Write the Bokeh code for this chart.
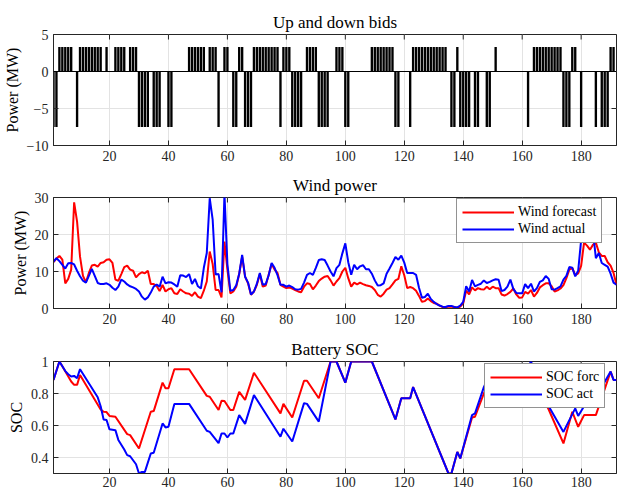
import math
from bokeh.plotting import figure
from bokeh.layouts import column
from bokeh.models import (FixedTicker, Span, Legend, LegendItem,
                          Range1d, ColumnDataSource)
from bokeh.embed import file_html
from bokeh.resources import INLINE

FONT = "Liberation Serif"
AX = "#262626"
GRID = "#e3e3e3"

# ---------------- data ----------------
hours = list(range(1, 193))

up_hours = [3, 4, 5, 6, 7, 10, 11, 12, 13, 14, 15, 16, 17, 19, 22, 23, 24, 25,
            27, 28, 29, 47, 48, 49, 50, 51, 52, 54, 55, 56, 59, 60, 64, 65,
            69, 70, 71, 72, 73, 74, 75, 76, 77, 79, 80, 81, 87, 88, 89, 90,
            97, 98, 99, 109, 110, 111, 112, 113, 114, 115, 116,
            123, 124, 125, 126, 127, 128, 129, 130, 131, 132, 133, 134, 138, 151,
            164, 165, 166, 167, 168, 169, 170, 171, 172, 173, 177, 178, 190, 191]
down_hours = [1, 2, 9, 30, 31, 32, 33, 35, 36, 37, 40, 41, 57, 62, 63, 66, 67, 68,
              78, 82, 83, 84, 85, 91, 92, 93, 94, 100, 101, 117, 118, 122,
              136, 137, 139, 140, 141, 142, 144, 145, 148, 149, 162,
              174, 175, 176, 180, 185, 187, 188, 189]
up_bid = 3.3
down_bid = -7.5

wind_forecast = [
    12.5, 13.5, 14.2, 13.2, 6.8, 8.0, 10.5, 28.7, 23.5, 14.0,
    8.8, 7.1, 9.6, 11.6, 11.8, 11.3, 12.3, 12.5, 13.2, 13.3,
    12.3, 7.8, 7.5, 9.3, 11.2, 11.6, 10.5, 10.2, 8.4, 9.3,
    9.8, 9.5, 10.2, 6.6, 6.6, 6.1, 4.7, 6.4, 4.6, 5.2,
    5.5, 4.1, 3.9, 5.2, 4.6, 4.1, 4.0, 3.4, 4.4, 3.2,
    2.8, 4.8, 7.3, 15.4, 12.0, 5.0, 5.0, 3.0, 18.1, 10.5,
    4.1, 4.6, 5.9, 9.3, 14.0, 8.6, 6.8, 3.7, 4.6, 6.4,
    9.3, 5.9, 6.2, 9.1, 12.0, 10.5, 9.6, 6.4, 5.9, 5.5,
    5.7, 5.4, 5.0, 4.6, 4.4, 5.9, 6.8, 6.6, 5.2, 6.2,
    7.4, 8.1, 8.6, 8.8, 7.6, 6.2, 7.3, 8.2, 10.0, 11.0,
    8.2, 5.9, 7.0, 6.5, 7.0, 6.6, 6.3, 6.1, 5.8, 5.0,
    3.7, 3.2, 4.0, 5.1, 5.5, 6.5, 7.6, 8.0, 11.4, 9.0,
    5.5, 5.8, 5.5, 4.8, 3.4, 1.8, 2.0, 2.7, 2.0, 1.5,
    1.3, 0.8, 0.4, 0.4, 0.5, 0.5, 0.4, 0.2, 0.5, 1.4,
    4.8, 3.8, 5.7, 4.9, 5.5, 5.2, 5.1, 5.9, 5.2, 5.9,
    5.5, 5.5, 3.8, 3.5, 3.9, 4.5, 5.4, 3.8, 2.9, 3.0,
    4.5, 4.0, 5.0, 3.2, 4.2, 5.7, 6.3, 6.8, 6.8, 6.0,
    4.6, 4.9, 5.4, 6.3, 8.2, 10.5, 11.0, 9.0, 9.5, 11.5,
    17.8, 17.0, 15.9, 17.2, 17.8, 15.2, 14.2, 14.2, 12.5, 11.6,
    9.6, 6.4]

wind_actual = [
    12.7, 13.6, 12.8, 11.8, 10.8, 12.2, 12.3, 11.9, 10.2, 8.7,
    7.5, 7.0, 8.8, 10.7, 8.8, 6.9, 6.6, 6.6, 6.8, 6.4,
    5.6, 5.0, 5.9, 7.8, 7.3, 6.5, 6.0, 5.7, 5.3, 4.6,
    3.2, 2.4, 3.0, 4.3, 5.9, 6.5, 5.9, 8.6, 6.8, 7.1,
    7.0, 6.5, 5.9, 9.0, 8.9, 8.5, 9.3, 6.6, 8.0, 6.0,
    5.4, 11.0, 15.0, 29.8, 24.0, 9.2, 9.3, 4.4, 31.0, 12.0,
    4.8, 5.0, 6.3, 9.4, 14.5, 8.6, 7.0, 3.8, 4.6, 6.7,
    9.6, 6.4, 6.6, 9.0, 12.3, 11.0, 9.0, 6.4, 6.4, 5.9,
    6.2, 5.8, 5.2, 5.1, 5.3, 7.0, 9.1, 9.6, 9.1, 11.0,
    13.1, 13.3, 13.1, 11.6, 10.0, 8.7, 10.9, 11.8, 14.9, 17.6,
    12.5, 9.1, 11.8, 10.6, 11.4, 11.7, 10.6, 10.6, 9.4, 7.6,
    6.2, 6.3, 6.8, 9.4, 10.8, 12.3, 13.9, 13.2, 14.3, 12.4,
    9.6, 9.6, 9.6, 9.1, 5.6, 2.9, 3.1, 4.0, 2.6, 1.8,
    1.2, 0.8, 0.5, 0.4, 0.7, 0.7, 0.4, 0.3, 0.8, 1.8,
    6.0, 4.6, 7.7, 6.0, 6.4, 6.7, 7.6, 6.9, 7.2, 7.6,
    7.9, 7.8, 4.7, 5.0, 5.9, 7.8, 5.3, 4.2, 4.1, 4.1,
    6.6, 5.5, 6.7, 4.6, 5.5, 7.2, 7.6, 8.8, 8.0, 5.2,
    5.1, 5.5, 6.0, 7.8, 8.8, 11.2, 11.0, 8.7, 10.2, 18.5,
    21.0, 18.0, 19.0, 21.0, 13.6, 15.0, 12.3, 11.8, 11.3, 9.4,
    7.0, 6.4]

soc_forc_hours = [1, 3, 4, 7, 8, 9, 10, 17, 18, 19, 20, 22, 26, 27, 30, 34, 35,
                  38, 39, 40, 42, 47, 53, 54, 57, 58, 59, 61, 62, 64, 66, 69,
                  78, 79, 82, 86, 87, 91, 95, 97, 100, 102, 109, 117, 119, 122,
                  123, 135, 136, 138, 139, 143, 144, 147, 150, 152, 156, 160,
                  163, 169, 174, 177, 179, 181, 185, 190, 191, 192]
soc_forc = [0.885, 1.0, 0.97, 0.875, 0.854, 0.854, 0.916, 0.70, 0.686, 0.684,
            0.66, 0.655, 0.546, 0.54, 0.456, 0.686, 0.69, 0.868, 0.833, 0.833,
            0.952, 0.952, 0.785, 0.78, 0.697, 0.755, 0.753, 0.697, 0.697, 0.81,
            0.76, 0.93, 0.676, 0.735, 0.65, 0.88, 0.88, 0.77, 1.0, 1.0, 0.868,
            1.0, 1.0, 0.638, 0.77, 0.77, 0.84, 0.3, 0.3, 0.435, 0.394, 0.65,
            0.655, 0.80, 0.90, 0.92, 0.86, 0.87, 0.92, 0.70, 0.488, 0.686,
            0.592, 0.665, 0.665, 0.937, 0.885, 0.885]

soc_act_hours = [1, 3, 5, 6, 7, 8, 9, 10, 16, 17, 18, 19, 20, 22, 23, 25, 26,
                 27, 29, 30, 31, 32, 34, 35, 38, 39, 40, 42, 47, 53, 54, 57, 58,
                 59, 60, 61, 62, 64, 66, 69, 78, 79, 82, 86, 87, 91, 95, 97, 100,
                 102, 109, 117, 119, 122, 123, 135, 136, 138, 139, 143, 144, 147,
                 150, 151, 152, 155, 158, 160, 163, 169, 174, 178, 179, 181, 183,
                 185, 187, 190, 191, 192]
soc_act = [0.885, 1.0, 0.94, 0.92, 0.906, 0.91, 0.895, 0.952, 0.776, 0.72,
           0.638, 0.634, 0.576, 0.571, 0.51, 0.45, 0.415, 0.408, 0.358, 0.30,
           0.31, 0.31, 0.425, 0.43, 0.613, 0.588, 0.592, 0.735, 0.735, 0.567,
           0.56, 0.49, 0.55, 0.55, 0.525, 0.55, 0.55, 0.665, 0.61, 0.79, 0.53,
           0.58, 0.50, 0.74, 0.735, 0.624, 1.0, 1.0, 0.868, 1.0, 1.0, 0.638,
           0.77, 0.77, 0.84, 0.3, 0.3, 0.435, 0.394, 0.665, 0.676, 0.84,
           0.96, 0.983, 0.95, 0.90, 0.88, 0.90, 1.0, 0.72, 0.56, 0.707, 0.66,
           0.72, 0.78, 0.82, 0.84, 0.937, 0.885, 0.885]

x_ticks = [20, 40, 60, 80, 100, 120, 140, 160, 180]
x_lim = (1, 192)


# ---------------- helpers ----------------
def make_fig(title, height, top, bottom, yr, yticks, ylabel):
    p = figure(width=617, height=height, x_range=Range1d(*x_lim),
               y_range=Range1d(*yr), output_backend="svg",
               toolbar_location=None, min_border_left=52, min_border_right=1,
               min_border_top=top, min_border_bottom=bottom)
    p.title.text = title
    p.title.align = "center"
    p.title.text_font = FONT
    p.title.text_font_size = "17px"
    p.title.text_font_style = "normal"
    p.title.text_color = "black"
    p.title.standoff = 5
    p.outline_line_color = AX
    p.outline_line_width = 1
    p.background_fill_color = "white"
    p.border_fill_color = "white"

    for ax in (p.xaxis[0], p.yaxis[0]):
        ax.major_tick_in = 5
        ax.major_tick_out = 0
        ax.minor_tick_line_color = None
        ax.major_tick_line_color = AX
        ax.axis_line_color = AX
        ax.major_label_text_font = FONT
        ax.major_label_text_font_size = "14px"
        ax.major_label_text_color = AX
        ax.major_label_standoff = 5
    p.xaxis.ticker = FixedTicker(ticks=x_ticks)
    p.yaxis.ticker = FixedTicker(ticks=yticks)
    p.yaxis.axis_label = ylabel
    p.yaxis.axis_label_text_font = FONT
    p.yaxis.axis_label_text_font_size = "16px"
    p.yaxis.axis_label_text_font_style = "normal"
    p.yaxis.axis_label_text_color = "black"
    p.yaxis.axis_label_standoff = 3

    p.xgrid.ticker = FixedTicker(ticks=x_ticks)
    p.ygrid.ticker = FixedTicker(ticks=yticks)
    p.grid.grid_line_color = GRID
    p.grid.grid_line_width = 1

    # inward tick marks on the top and right edges (clipped half-dashes)
    p.scatter(x_ticks, [yr[1]] * len(x_ticks), marker="dash", angle=math.pi / 2,
              size=10, line_color=AX, line_width=1)
    p.scatter([x_lim[1]] * len(yticks), yticks, marker="dash",
              size=10, line_color=AX, line_width=1)
    return p


# ---------------- plot 1: bids ----------------
p1 = make_fig("Up and down bids", 168, 34, 23, (-10, 5), [-10, -5, 0, 5],
              "Power (MW)")
bars = ColumnDataSource(dict(
    x=up_hours + down_hours,
    top=[up_bid] * len(up_hours) + [down_bid] * len(down_hours)))
p1.vbar(x="x", top="top", bottom=0, width=0.8, source=bars,
        fill_color="black", line_color=None)
p1.add_layout(Span(location=0, dimension="width", line_color="black",
                   line_width=1))

# ---------------- plot 2: wind ----------------
p2 = make_fig("Wind power", 162, 29, 22, (0, 30), [0, 10, 20, 30],
              "Power (MW)")
r_wf = p2.line(hours, wind_forecast, line_color="#ff0000", line_width=2)
r_wa = p2.line(hours, wind_actual, line_color="#0000ff", line_width=2)
leg2 = Legend(items=[LegendItem(label="Wind forecast", renderers=[r_wf]),
                     LegendItem(label="Wind actual", renderers=[r_wa])],
              location=(403, 65))
p2.add_layout(leg2)

# ---------------- plot 3: SOC ----------------
p3 = make_fig("Battery SOC", 161, 31, 18, (0.3, 1.0), [0.4, 0.6, 0.8, 1.0],
              "SOC")
p3.yaxis.major_label_overrides = {0.4: "0.4", 0.6: "0.6", 0.8: "0.8", 1.0: "1"}
p3.xaxis.major_label_standoff = 3
r_sf = p3.line(soc_forc_hours, soc_forc, line_color="#ff0000", line_width=2)
r_sa = p3.line(soc_act_hours, soc_act, line_color="#0000ff", line_width=2)
leg3 = Legend(items=[LegendItem(label="SOC forc", renderers=[r_sf]),
                     LegendItem(label="SOC act", renderers=[r_sa])],
              location=(431, 65))
p3.add_layout(leg3)

for leg in (leg2, leg3):
    leg.border_line_color = AX
    leg.border_line_width = 1
    leg.background_fill_color = "white"
    leg.background_fill_alpha = 1
    leg.label_text_font = FONT
    leg.label_text_font_size = "14px"
    leg.label_text_color = "black"
    leg.glyph_width = 52
    leg.glyph_height = 16
    leg.label_height = 16
    leg.label_standoff = 4
    leg.padding = 5
    leg.spacing = 1
    leg.margin = 0

layout = column(p1, p2, p3)
open("out.html", "w").write(file_html(layout, INLINE))
